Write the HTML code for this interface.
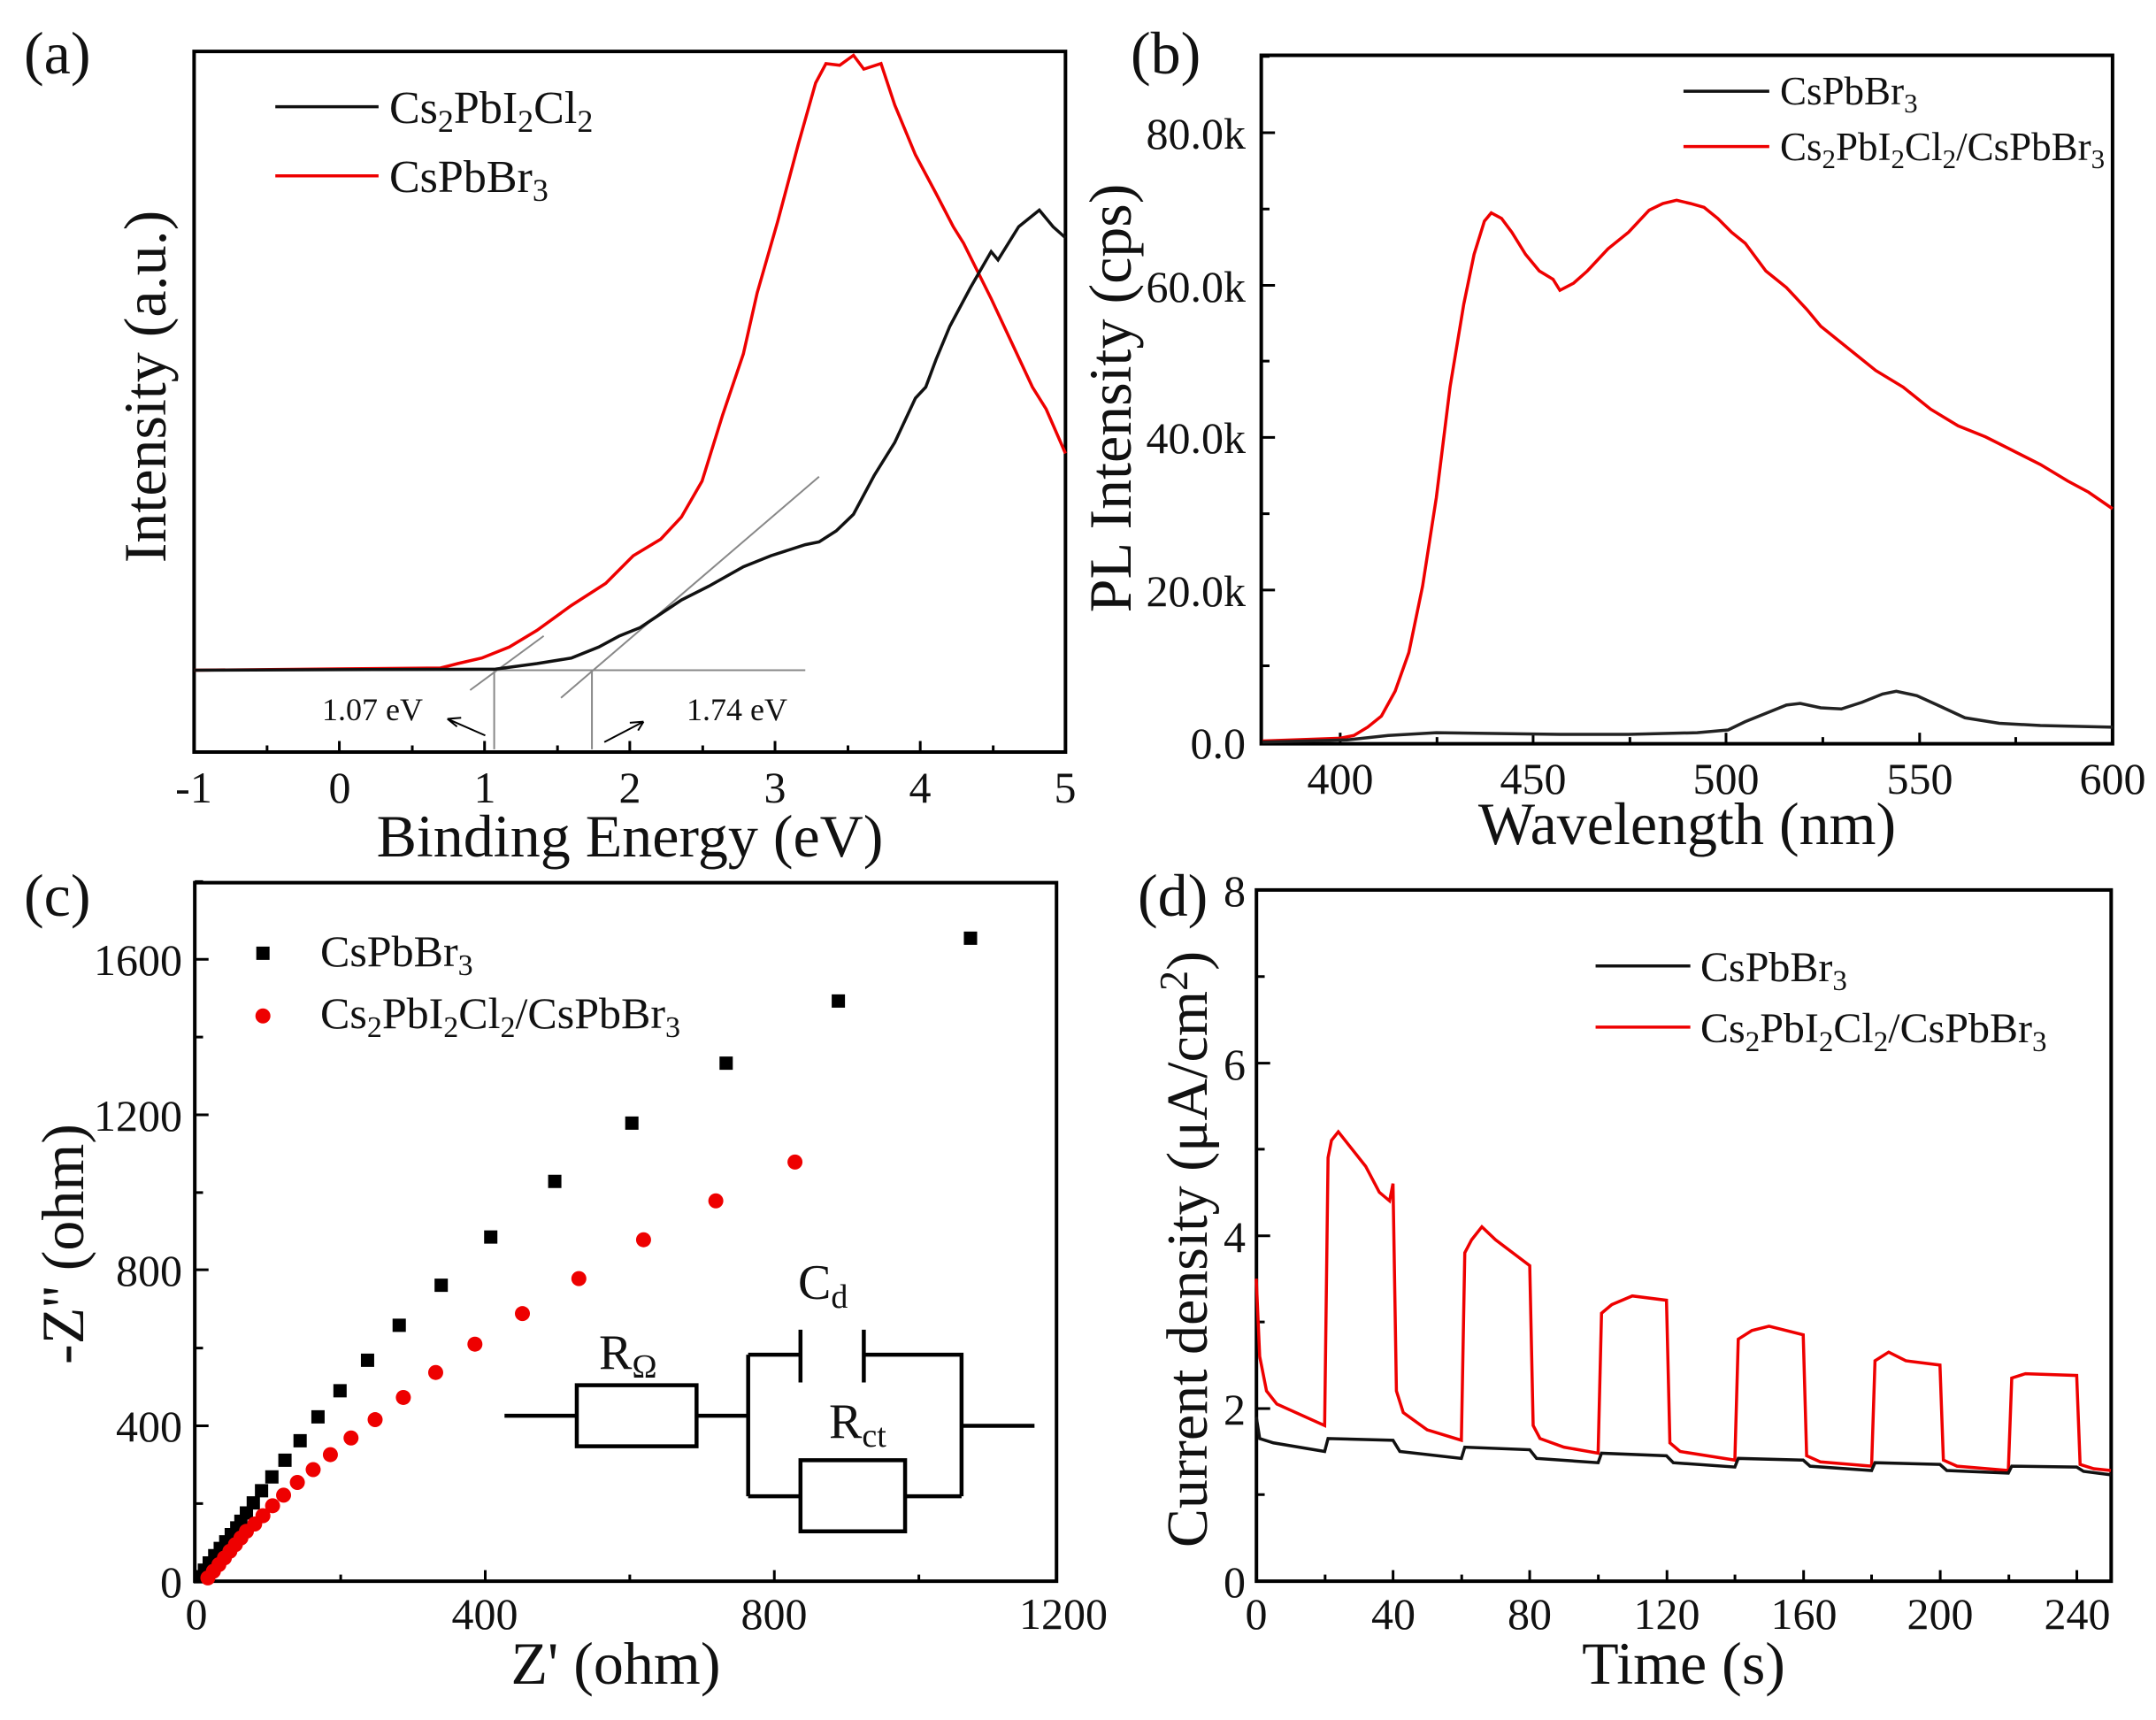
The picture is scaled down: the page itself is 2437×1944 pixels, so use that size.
<!DOCTYPE html>
<html><head><meta charset="utf-8"><style>
html,body{margin:0;padding:0;background:#fff;}
svg{display:block;}
text{font-family:"Liberation Serif",serif;fill:#111;}
path,rect{vector-effect:non-scaling-stroke;}
</style></head><body>
<svg width="2437" height="1944" viewBox="0 0 2437 1944" xmlns="http://www.w3.org/2000/svg">
<!-- ===== Panel a geometry ===== -->
<g transform="scale(0.778,0.625)">
 <rect x="282" y="93" width="1266" height="1267" fill="none" stroke="#000" stroke-width="4"/>
 <path stroke="#000" stroke-width="3" d="M282 1360v-20M388 1360v-12M493 1360v-20M599 1360v-12M704 1360v-20M810 1360v-12M915 1360v-20M1021 1360v-12M1126 1360v-20M1232 1360v-12M1337 1360v-20M1443 1360v-12"/>
 <g stroke="#888" stroke-width="2" fill="none">
  <path d="M282 1212H1170"/>
  <path d="M683 1248L790 1150"/>
  <path d="M815 1262L1190 862"/>
  <path d="M718 1212V1355M860 1212V1355"/>
 </g>
 <g stroke="#000" stroke-width="2" fill="none">
  <path d="M705 1330L650 1300M650 1300l14 14M650 1300l20 -2"/>
  <path d="M878 1342L935 1305M935 1305l-20 2M935 1305l-8 16"/>
 </g>
 <path fill="none" stroke="#e00" stroke-width="3.5" d="M282 1212L640 1208L665 1200L700 1190L740 1170L780 1140L830 1095L880 1055L920 1005L960 975L990 935L1020 870L1050 750L1080 640L1100 530L1130 400L1160 260L1185 150L1200 115L1220 118L1240 100L1255 125L1280 115L1300 190L1330 280L1360 350L1385 410L1400 440L1420 490L1440 540L1470 620L1500 700L1520 740L1548 820"/>
 <path fill="none" stroke="#111" stroke-width="3.5" d="M282 1212L720 1210L780 1200L830 1190L870 1170L900 1150L930 1135L960 1110L990 1085L1030 1060L1080 1025L1120 1005L1170 985L1190 980L1215 960L1240 930L1270 860L1300 800L1330 720L1345 700L1360 650L1380 590L1410 520L1440 455L1450 470L1480 410L1510 380L1530 410L1548 430"/>
 <path stroke="#111" stroke-width="3.5" d="M400 193H550"/>
 <path stroke="#e00" stroke-width="3.5" d="M400 318H550"/>
</g>
<!-- Panel a text -->
<text x="27" y="83" font-size="68">(a)</text>
<g font-size="50" text-anchor="middle">
 <text x="219" y="907">-1</text><text x="384" y="907">0</text><text x="548" y="907">1</text><text x="712" y="907">2</text><text x="876" y="907">3</text><text x="1040" y="907">4</text><text x="1204" y="907">5</text>
</g>
<text x="712" y="968" font-size="68" text-anchor="middle">Binding Energy (eV)</text>
<text transform="translate(187,437) rotate(-90)" font-size="68" text-anchor="middle">Intensity (a.u.)</text>
<text x="364" y="814" font-size="36">1.07 eV</text>
<text x="776" y="814" font-size="36">1.74 eV</text>
<text x="440" y="139" font-size="52">Cs<tspan font-size="36" dy="10">2</tspan><tspan dy="-10">PbI</tspan><tspan font-size="36" dy="10">2</tspan><tspan dy="-10">Cl</tspan><tspan font-size="36" dy="10">2</tspan></text>
<text x="440" y="217" font-size="52">CsPbBr<tspan font-size="36" dy="10">3</tspan></text>

<!-- ===== Panel b geometry ===== -->
<g transform="translate(1220,0) scale(0.776,0.625)">
 <rect x="265" y="100" width="1240" height="1245" fill="none" stroke="#000" stroke-width="4"/>
 <path stroke="#000" stroke-width="3" d="M380 1345v-20M521 1345v-12M661 1345v-20M802 1345v-12M942 1345v-20M1083 1345v-12M1224 1345v-20M1364 1345v-12M265 1342h20M265 1204h12M265 1067h20M265 929h12M265 791h20M265 653h12M265 516h20M265 378h12M265 240h20M265 102h12"/>
 <path fill="none" stroke="#e00" stroke-width="3.5" d="M267 1340L380 1335L400 1330L420 1315L440 1295L460 1250L480 1180L500 1060L520 900L540 700L560 550L575 460L590 400L600 385L615 395L630 420L650 460L670 490L690 505L700 525L720 512L740 490L770 450L800 420L830 380L850 368L870 362L890 368L910 375L930 395L950 420L970 440L1000 490L1030 520L1060 560L1080 590L1100 610L1130 640L1160 670L1200 700L1240 740L1280 770L1320 790L1360 815L1400 840L1440 870L1470 890L1505 920"/>
 <path fill="none" stroke="#222" stroke-width="3.5" d="M267 1342L390 1338L450 1330L520 1325L700 1328L800 1328L900 1325L945 1320L970 1305L1000 1290L1030 1275L1050 1272L1080 1280L1110 1282L1140 1270L1170 1255L1190 1250L1220 1258L1250 1275L1290 1298L1340 1308L1400 1312L1505 1315"/>
 <path stroke="#111" stroke-width="3.5" d="M880 165H1005"/>
 <path stroke="#e00" stroke-width="3.5" d="M880 265H1005"/>
</g>
<text x="1278" y="83" font-size="68">(b)</text>
<g font-size="50" text-anchor="middle">
 <text x="1515" y="897">400</text><text x="1733" y="897">450</text><text x="1951" y="897">500</text><text x="2170" y="897">550</text><text x="2388" y="897">600</text>
</g>
<g font-size="50" text-anchor="end">
 <text x="1408" y="857">0.0</text><text x="1408" y="685">20.0k</text><text x="1408" y="512">40.0k</text><text x="1408" y="341">60.0k</text><text x="1408" y="168">80.0k</text>
</g>
<text x="1907" y="954" font-size="68" text-anchor="middle">Wavelength (nm)</text>
<text transform="translate(1278,450) rotate(-90)" font-size="68" text-anchor="middle">PL Intensity (cps)</text>
<text x="2012" y="118" font-size="45">CsPbBr<tspan font-size="31" dy="9">3</tspan></text>
<text x="2012" y="181" font-size="45">Cs<tspan font-size="31" dy="9">2</tspan><tspan dy="-9">PbI</tspan><tspan font-size="31" dy="9">2</tspan><tspan dy="-9">Cl</tspan><tspan font-size="31" dy="9">2</tspan><tspan dy="-9">/CsPbBr</tspan><tspan font-size="31" dy="9">3</tspan></text>

<!-- ===== Panel c geometry ===== -->
<g transform="translate(0,960) scale(0.778,0.6276)">
 <rect x="283" y="60" width="1252" height="1258" fill="none" stroke="#000" stroke-width="4"/>
 <path stroke="#000" stroke-width="3" d="M285 1318v-20M495 1318v-12M705 1318v-20M915 1318v-12M1125 1318v-20M1335 1318v-12M283 1318h20M283 1178h12M283 1038h20M283 898h12M283 757h20M283 618h12M283 478h20M283 338h12M283 198h20M283 58h12"/>
 <path fill="none" stroke="#000" stroke-width="15" stroke-linecap="square" d="M1410 160h0M1218 273h0M1055 385h0M918 493h0M806 598h0M713 698h0M641 785h0M580 857h0M534 920h0M494 975h0M462 1022h0M436 1065h0M414 1100h0M395 1130h0M380 1155h0M368 1177h0M358 1195h0M350 1210h0M344 1222h0M336 1234h0M328 1247h0M320 1259h0M312 1272h0M304 1285h0M297 1298h0M291 1310h0M382 187h0"/>
 <path fill="none" stroke="#e00" stroke-width="17" stroke-linecap="round" d="M1155 563h0M1040 633h0M935 703h0M841 773h0M759 836h0M690 891h0M633 942h0M586 987h0M545 1027h0M510 1060h0M480 1090h0M455 1117h0M432 1140h0M412 1163h0M396 1182h0M382 1200h0M370 1215h0M358 1228h0M350 1240h0M342 1252h0M334 1264h0M326 1276h0M318 1288h0M310 1300h0M302 1312h0M382 300h0"/>
 <g stroke="#000" stroke-width="4.5" fill="none">
  <path d="M733 1020H838M1012 1020H1087"/>
  <rect x="838" y="965" width="174" height="110"/>
  <path d="M1087 910V1165M1087 910H1163M1163 865V960M1255 865V960M1255 910H1397V1165M1397 1038H1503M1087 1165H1163M1315 1165H1397"/>
  <rect x="1163" y="1100" width="152" height="128"/>
 </g>
</g>
<text x="27" y="1035" font-size="68">(c)</text>
<g font-size="50" text-anchor="middle">
 <text x="222" y="1841">0</text><text x="548" y="1841">400</text><text x="875" y="1841">800</text><text x="1202" y="1841">1200</text>
</g>
<g font-size="50" text-anchor="end">
 <text x="206" y="1805">0</text><text x="206" y="1629">400</text><text x="206" y="1453">800</text><text x="206" y="1278">1200</text><text x="206" y="1102">1600</text>
</g>
<text x="696" y="1903" font-size="68" text-anchor="middle">Z' (ohm)</text>
<text transform="translate(94,1406) rotate(-90)" font-size="68" text-anchor="middle">-Z'' (ohm)</text>
<text x="362" y="1092" font-size="50">CsPbBr<tspan font-size="34" dy="10">3</tspan></text>
<text x="362" y="1162" font-size="50">Cs<tspan font-size="34" dy="10">2</tspan><tspan dy="-10">PbI</tspan><tspan font-size="34" dy="10">2</tspan><tspan dy="-10">Cl</tspan><tspan font-size="34" dy="10">2</tspan><tspan dy="-10">/CsPbBr</tspan><tspan font-size="34" dy="10">3</tspan></text>
<text x="677" y="1547" font-size="56">R<tspan font-size="38" dy="10">Ω</tspan></text>
<text x="902" y="1468" font-size="56">C<tspan font-size="38" dy="10">d</tspan></text>
<text x="937" y="1625" font-size="56">R<tspan font-size="38" dy="10">ct</tspan></text>

<!-- ===== Panel d geometry ===== -->
<g transform="translate(1220,960) scale(0.776,0.6276)">
 <rect x="258" y="73" width="1245" height="1245" fill="none" stroke="#000" stroke-width="4"/>
 <path stroke="#000" stroke-width="3" d="M258 1318v-20M358 1318v-12M457 1318v-20M557 1318v-12M656 1318v-20M756 1318v-12M856 1318v-20M955 1318v-12M1055 1318v-20M1154 1318v-12M1254 1318v-20M1354 1318v-12M1453 1318v-20M258 1318h20M258 1162h12M258 1007h20M258 851h12M258 696h20M258 540h12M258 385h20M258 229h12M258 73h20"/>
 <path stroke="#111" stroke-width="3.5" d="M752 210H890"/>
 <path stroke="#e00" stroke-width="3.5" d="M752 320H890"/>
</g>
<g transform="translate(1420,1787) scale(3.864,-97.66)">
 <path fill="none" stroke="#e00" stroke-width="3.5" d="M0 3.5L1 2.6L3 2.2L6 2.05L20 1.8L21 4.9L22 5.1L24 5.2L28 5.0L32 4.8L36 4.5L39 4.4L40 4.6L41 2.2L43 1.95L50 1.75L60 1.63L61 3.8L63 3.95L66 4.1L70 3.95L75 3.8L80 3.65L81 1.8L83 1.65L90 1.55L100 1.48L101 3.1L104 3.2L110 3.3L120 3.25L121 1.6L124 1.5L140 1.4L141 2.8L145 2.9L150 2.95L160 2.85L161 1.45L165 1.38L180 1.33L181 2.55L185 2.65L190 2.55L200 2.5L201 1.4L205 1.33L220 1.28L221 2.35L225 2.4L240 2.38L241 1.35L245 1.3L250 1.28"/>
 <path fill="none" stroke="#111" stroke-width="3.5" d="M0 1.9L1 1.65L5 1.6L20 1.5L21 1.65L40 1.63L42 1.5L60 1.42L61 1.55L80 1.52L82 1.42L100 1.37L101 1.48L120 1.45L122 1.37L140 1.32L141 1.42L160 1.4L162 1.33L180 1.28L181 1.37L200 1.35L202 1.28L220 1.25L221 1.33L240 1.32L242 1.27L250 1.23"/>
</g>
<text x="1286" y="1035" font-size="68">(d)</text>
<g font-size="50" text-anchor="middle">
 <text x="1420" y="1841">0</text><text x="1575" y="1841">40</text><text x="1729" y="1841">80</text><text x="1884" y="1841">120</text><text x="2039" y="1841">160</text><text x="2193" y="1841">200</text><text x="2348" y="1841">240</text>
</g>
<g font-size="50" text-anchor="end">
 <text x="1408" y="1805">0</text><text x="1408" y="1610">2</text><text x="1408" y="1415">4</text><text x="1408" y="1220">6</text><text x="1408" y="1024">8</text>
</g>
<text x="1903" y="1903" font-size="68" text-anchor="middle">Time (s)</text>
<text transform="translate(1364,1412) rotate(-90)" font-size="66" text-anchor="middle">Current density (μA/cm<tspan font-size="46" dy="-22">2</tspan><tspan dy="22">)</tspan></text>
<text x="1922" y="1109" font-size="48">CsPbBr<tspan font-size="33" dy="10">3</tspan></text>
<text x="1922" y="1178" font-size="48">Cs<tspan font-size="33" dy="10">2</tspan><tspan dy="-10">PbI</tspan><tspan font-size="33" dy="10">2</tspan><tspan dy="-10">Cl</tspan><tspan font-size="33" dy="10">2</tspan><tspan dy="-10">/CsPbBr</tspan><tspan font-size="33" dy="10">3</tspan></text>
</svg>
</body></html>
